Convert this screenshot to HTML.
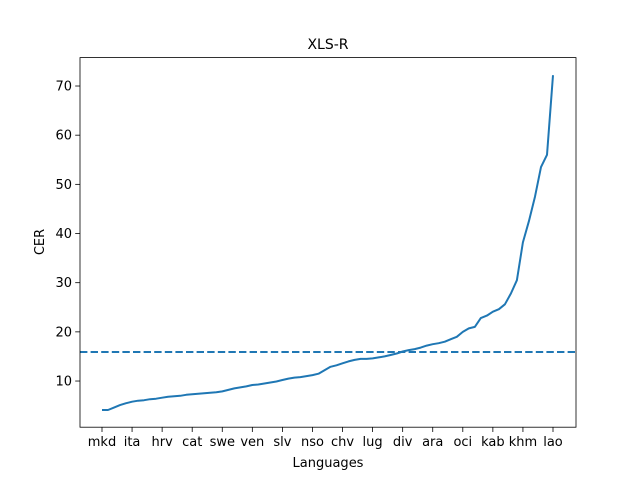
<!DOCTYPE html>
<html><head><meta charset="utf-8"><style>
body{margin:0;background:#fff}
svg{font-family:"DejaVu Sans","Liberation Sans",sans-serif}
</style></head><body>
<svg id="chart" width="640" height="480">
<rect width="640" height="480" fill="#fff"/>
<text x="328" y="49" font-size="14" text-anchor="middle">XLS-R</text>
<g id="xt"></g><g id="yt"></g>
<line id="thr" stroke="#1f77b4" stroke-width="2" stroke-dasharray="7.4,3.2"/>
<path id="ln" fill="none" stroke="#1f77b4" stroke-width="2" stroke-linejoin="round"/>
<rect x="80" y="57.6" width="496" height="369.6" fill="none" stroke="#000" stroke-width="0.8"/>
<text x="328" y="467" font-size="13" text-anchor="middle">Languages</text>
<text x="44" y="242" font-size="13" text-anchor="middle" transform="rotate(-90 44 242)">CER</text>
</svg>
<script>
const tickLabels=["mkd","ita","hrv","cat","swe","ven","slv","nso","chv","lug","div","ara","oci","kab","khm","lao"];
const cer=[4.1,4.1,4.6,5.1,5.5,5.8,6.0,6.1,6.3,6.4,6.6,6.8,6.9,7.0,7.2,7.3,7.4,7.5,7.6,7.7,7.9,8.2,8.5,8.7,8.9,9.2,9.3,9.5,9.7,9.9,10.2,10.5,10.7,10.8,11.0,11.2,11.5,12.2,12.9,13.2,13.6,14.0,14.3,14.5,14.5,14.6,14.8,15.0,15.3,15.6,16.0,16.3,16.5,16.8,17.2,17.5,17.7,18.0,18.5,19.0,20.0,20.7,21.0,22.8,23.3,24.1,24.6,25.6,27.8,30.5,38.2,42.5,47.5,53.5,56.0,72.2];
const yTicks=[10,20,30,40,50,60,70];
const threshold=15.9;
const ticksEvery=5;
const ns="http://www.w3.org/2000/svg";
const n=cer.length;
const X=i=>102+i*(451/(n-1));
const Y=v=>430.2-4.917*v;
const xt=document.getElementById('xt'),yt=document.getElementById('yt');
tickLabels.forEach((l,k)=>{
  const x=X(k*ticksEvery);
  const t=document.createElementNS(ns,'line');
  t.setAttribute('x1',x);t.setAttribute('x2',x);t.setAttribute('y1',427.2);t.setAttribute('y2',432);t.setAttribute('stroke','#000');t.setAttribute('stroke-width','0.8');
  
  
  xt.appendChild(t);
  const s=document.createElementNS(ns,'text');
  s.setAttribute('x',x);s.setAttribute('y',446);s.setAttribute('font-size','13');s.setAttribute('text-anchor','middle');s.textContent=l;
  
  
  xt.appendChild(s);
});
yTicks.forEach(v=>{
  const y=Y(v);
  const t=document.createElementNS(ns,'line');
  t.setAttribute('x1',75.2);t.setAttribute('x2',80);t.setAttribute('y1',y);t.setAttribute('y2',y);t.setAttribute('stroke','#000');t.setAttribute('stroke-width','0.8');
  
  
  yt.appendChild(t);
  const s=document.createElementNS(ns,'text');
  s.setAttribute('x',72);s.setAttribute('y',y+4.5);s.setAttribute('font-size','13');s.setAttribute('text-anchor','end');s.textContent=v;
  
  
  yt.appendChild(s);
});
const th=document.getElementById('thr');
th.setAttribute('x1',80);th.setAttribute('x2',576);th.setAttribute('y1',Y(threshold));th.setAttribute('y2',Y(threshold));
document.getElementById('ln').setAttribute('d',cer.map((v,i)=>(i?'L':'M')+X(i).toFixed(1)+','+Y(v).toFixed(1)).join(''));
</script>
</body></html>
